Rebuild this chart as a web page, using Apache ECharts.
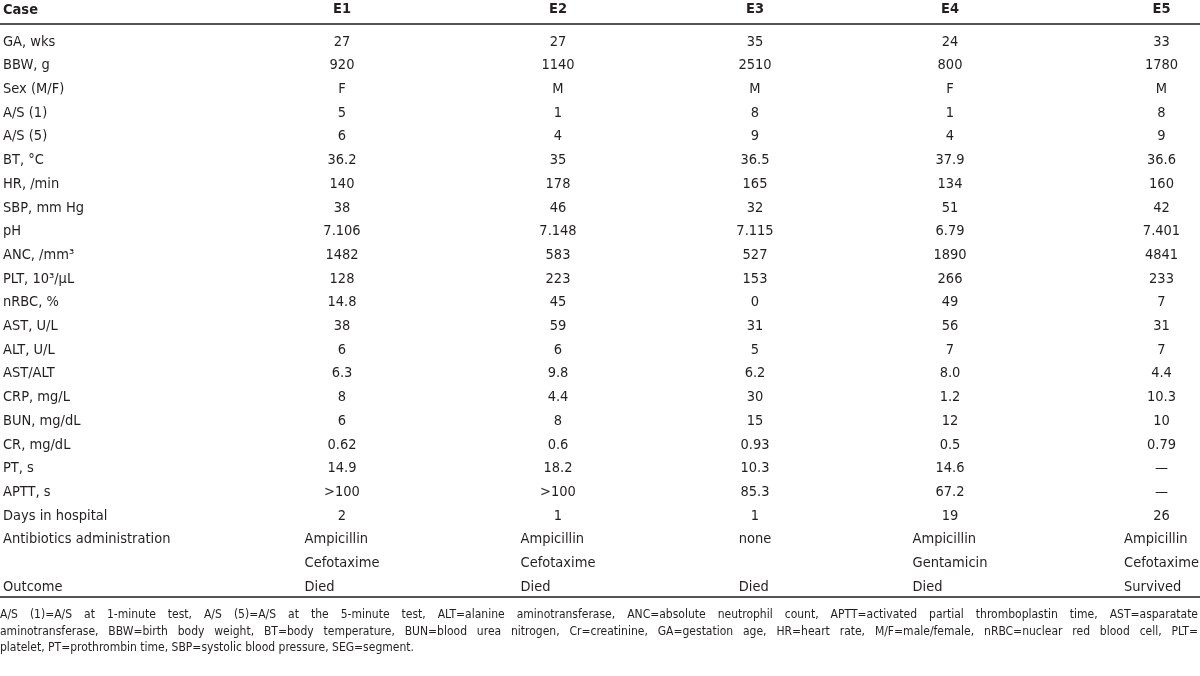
<!DOCTYPE html>
<html><head><meta charset="utf-8">
<script src="https://cdn.jsdelivr.net/npm/echarts@6/dist/echarts.min.js"></script>
<style>html,body{margin:0;padding:0;background:#fff}#c{width:1200px;height:676px}</style>
</head><body><div id="c"></div>
<script>
// ---------- data ----------
const headerLabel = 'Case';
const caseNames = ['E1', 'E2', 'E3', 'E4', 'E5'];
const rowLabels = ['GA, wks', 'BBW, g', 'Sex (M/F)', 'A/S (1)', 'A/S (5)', 'BT, °C', 'HR, /min',
  'SBP, mm Hg', 'pH', 'ANC, /mm³', 'PLT, 10³/μL', 'nRBC, %', 'AST, U/L', 'ALT, U/L', 'AST/ALT',
  'CRP, mg/L', 'BUN, mg/dL', 'CR, mg/dL', 'PT, s', 'APTT, s', 'Days in hospital',
  'Antibiotics administration', 'Outcome'];
const caseE1 = ['27', '920', 'F', '5', '6', '36.2', '140', '38', '7.106', '1482', '128', '14.8', '38', '6', '6.3', '8', '6', '0.62', '14.9', '>100', '2', 'Ampicillin\nCefotaxime', 'Died'];
const caseE2 = ['27', '1140', 'M', '1', '4', '35', '178', '46', '7.148', '583', '223', '45', '59', '6', '9.8', '4.4', '8', '0.6', '18.2', '>100', '1', 'Ampicillin\nCefotaxime', 'Died'];
const caseE3 = ['35', '2510', 'M', '8', '9', '36.5', '165', '32', '7.115', '527', '153', '0', '31', '5', '6.2', '30', '15', '0.93', '10.3', '85.3', '1', 'none', 'Died'];
const caseE4 = ['24', '800', 'F', '1', '4', '37.9', '134', '51', '6.79', '1890', '266', '49', '56', '7', '8.0', '1.2', '12', '0.5', '14.6', '67.2', '19', 'Ampicillin\nGentamicin', 'Died'];
const caseE5 = ['33', '1780', 'M', '8', '9', '36.6', '160', '42', '7.401', '4841', '233', '7', '31', '7', '4.4', '10.3', '10', '0.79', '—', '—', '26', 'Ampicillin\nCefotaxime', 'Survived'];
const footnoteLines = [
  'A/S (1)=A/S at 1-minute test, A/S (5)=A/S at the 5-minute test, ALT=alanine aminotransferase, ANC=absolute neutrophil count, APTT=activated partial thromboplastin time, AST=asparatate',
  'aminotransferase, BBW=birth body weight, BT=body temperature, BUN=blood urea nitrogen, Cr=creatinine, GA=gestation age, HR=heart rate, M/F=male/female, nRBC=nuclear red blood cell, PLT=',
  'platelet, PT=prothrombin time, SBP=systolic blood pressure, SEG=segment.'
];
const caseValues = [caseE1, caseE2, caseE3, caseE4, caseE5];
const textRows = ['Antibiotics administration', 'Outcome'];

// ---------- layout / style ----------
const W = 1200;
const FONT = '"Liberation Sans Narrow", "DejaVu Sans Condensed", sans-serif';
const TXT = '#231f20';
const FS = 14.5, FS_NOTE = 12;
const ROW_TOP = 30, ROW_H = 23.7;
const RULE_TOP = 24, RULE_BOTTOM = 597;
const colCenters = [342, 558, 755, 950, 1163];
const COL_W = 80;
const NOTE_TOP = 607, NOTE_LH = 16.5;

// slots (one per text line)
const slots = [];
const rowSlot = [];
rowLabels.forEach((lab, r) => {
  rowSlot.push(slots.length);
  slots.push(lab);
  const extra = Math.max(...caseValues.map(v => v[r].split('\n').length)) - 1;
  for (let k = 0; k < extra; k++) slots.push('');
});
const gridHeight = slots.length * ROW_H;

const ctx = document.createElement('canvas').getContext('2d');
function measure(t, size, weight) {
  ctx.font = (weight || 'normal') + ' ' + size + 'px ' + FONT;
  return ctx.measureText(t).width;
}

const ruleAxis = pos => ({
  gridIndex: 0, type: 'category', data: [''], position: pos,
  axisLine: { onZero: false, lineStyle: { color: '#555', width: 2 } },
  axisTick: { show: false }, axisLabel: { show: false }
});
const grids = [{ left: 0, width: W, top: RULE_TOP, height: RULE_BOTTOM - RULE_TOP }];
const xAxes = [ruleAxis('top'), ruleAxis('bottom')];
const yAxes = [{ gridIndex: 0, type: 'value', show: false }];

// label column
grids.push({ left: 0, width: 260, top: ROW_TOP, height: gridHeight });
xAxes.push({ gridIndex: 1, type: 'category', data: [headerLabel], show: false });
yAxes.push({
  gridIndex: 1, type: 'category', data: slots, inverse: true, position: 'left',
  axisLine: { show: false }, axisTick: { show: false }, splitLine: { show: false },
  axisLabel: { inside: true, margin: 0, interval: 0, fontSize: FS, fontFamily: FONT, color: TXT },
  name: headerLabel, nameLocation: 'start', nameGap: 20,
  nameTextStyle: { align: 'left', verticalAlign: 'middle', fontSize: FS, fontWeight: 'bold', fontFamily: FONT, color: TXT }
});

const series = [];
caseNames.forEach((name, i) => {
  const gi = grids.length;
  grids.push({ left: colCenters[i] - COL_W / 2, width: COL_W, top: ROW_TOP, height: gridHeight });
  const xi = xAxes.length;
  xAxes.push({
    gridIndex: gi, type: 'category', data: [name], position: 'top',
    axisLine: { show: false }, axisTick: { show: false },
    axisLabel: { margin: 13, fontSize: FS, fontWeight: 'bold', fontFamily: FONT, color: TXT }
  });
  const yi = yAxes.length;
  yAxes.push({ gridIndex: gi, type: 'category', data: slots, inverse: true, show: false });
  const vals = caseValues[i];
  let blockW = 0;
  rowLabels.forEach((lab, r) => {
    if (textRows.includes(lab)) vals[r].split('\n').forEach(l => { blockW = Math.max(blockW, measure(l, FS)); });
  });
  const data = vals.map((v, r) => {
    const isText = textRows.includes(rowLabels[r]);
    return {
      name: v, value: [0, rowSlot[r]],
      label: {
        align: isText ? 'left' : 'center',
        offset: [isText ? -blockW / 2 : 0, -ROW_H / 2]
      }
    };
  });
  series.push({
    type: 'scatter', xAxisIndex: xi, yAxisIndex: yi, symbolSize: 1, silent: true, data,
    itemStyle: { color: 'rgba(0,0,0,0)', opacity: 1 },
    label: {
      show: true, position: 'inside', formatter: '{b}', verticalAlign: 'top',
      lineHeight: ROW_H, fontSize: FS, fontFamily: FONT, color: TXT,
      textBorderWidth: 0, opacity: 1
    }
  });
});

// justified footnote via rich text
const rich = {};
const noteText = footnoteLines.map((line, li) => {
  const words = line.split(' ');
  if (li === footnoteLines.length - 1) return line;
  const sum = words.reduce((a, w) => a + measure(w, FS_NOTE), 0);
  const sp = Math.max(2, (W - 2 - sum) / (words.length - 1));
  rich['s' + li] = { width: sp, fontSize: FS_NOTE, fontFamily: FONT, color: TXT, lineHeight: NOTE_LH };
  return words.join('{s' + li + '| }');
}).join('\n');

const chart = echarts.init(document.getElementById('c'), null, { renderer: 'canvas' });
chart.setOption({
  animation: false,
  backgroundColor: '#fff',
  title: {
    text: noteText, left: 0, top: NOTE_TOP, padding: 0,
    textStyle: { fontSize: FS_NOTE, fontWeight: 'normal', fontFamily: FONT, color: TXT, lineHeight: NOTE_LH, rich }
  },
  grid: grids, xAxis: xAxes, yAxis: yAxes, series
});
</script></body></html>
